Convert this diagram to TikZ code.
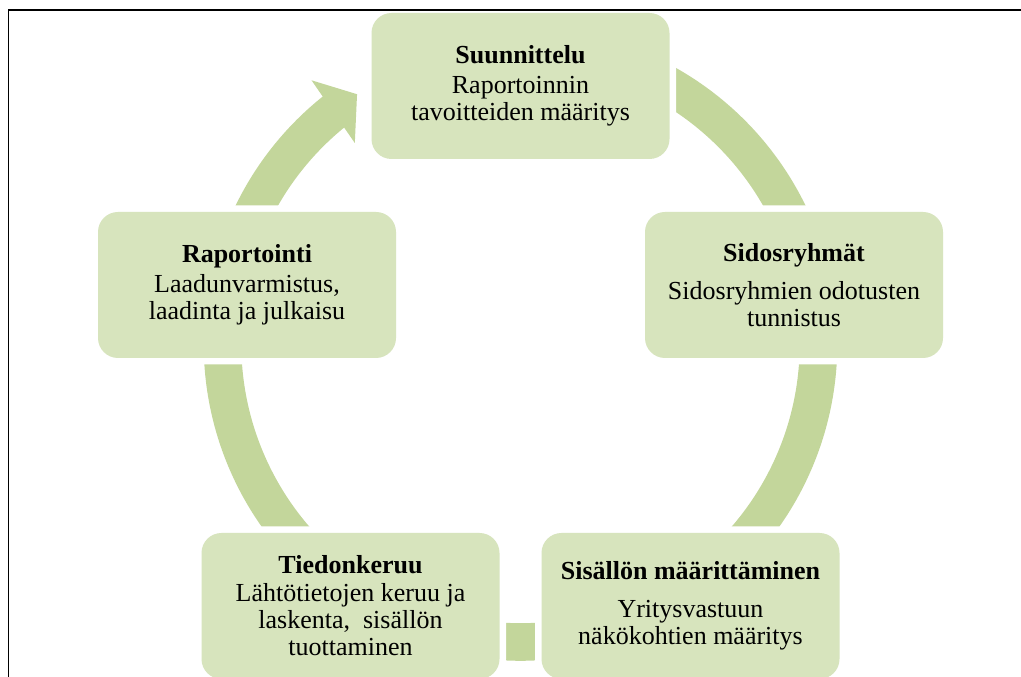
\documentclass[tikz,border=0pt]{standalone}
\usepackage{fontspec}
\setmainfont{Liberation Serif}
\definecolor{boxgreen}{RGB}{215,228,189}
\definecolor{ringgreen}{RGB}{195,214,155}

\begin{document}
\begin{tikzpicture}[x=1pt, y=1pt,
BoxStyle/.style={fill=boxgreen, rounded corners=20pt, minimum width=298pt,
                minimum height=146pt, inner sep=0pt, align=center,
                font=\fontsize{26}{27}\selectfont,
                preaction={draw=white, line width=13pt}},
RingStyle/.style={draw=ringgreen, line width=37.6pt},]
\useasboundingbox (0,0) rectangle (1021,677);
\coordinate (c) at (520.5,333);
% ring pieces between the boxes
\begin{scope}[shift={(c)}]
\draw[RingStyle] (95:298pt) arc[start angle=95, end angle=5, radius=298pt];
\draw[RingStyle] (5:298pt) arc[start angle=5, end angle=-60, radius=298pt];
\draw[RingStyle] (-60:298pt) arc[start angle=-60, end angle=-120, radius=298pt];
\draw[RingStyle] (-120:298pt) arc[start angle=-120, end angle=-180, radius=298pt];
\draw[RingStyle] (180:298pt) arc[start angle=180, end angle=127.5, radius=298pt];
\fill[ringgreen] (128.4:336.5pt) -- (123.2:298.5pt) -- (129.5:260.5pt) -- cycle;
\end{scope}
% boxes
\node[BoxStyle] (plan) at (520.5,591) {\textbf{Suunnittelu}\\[3pt]Raportoinnin\\tavoitteiden määritys};
\node[BoxStyle] (stake) at (794,392) {\textbf{Sidosryhmät}\\[11pt]Sidosryhmien odotusten\\tunnistus};
\node[BoxStyle] (content) at (690.5,71) {\textbf{Sisällön määrittäminen}\\[11pt]Yritysvastuun\\näkökohtien määritys};
\node[BoxStyle] (data) at (350.5,71) {\textbf{Tiedonkeruu}\\[1pt]Lähtötietojen keruu ja\\laskenta,\ \ sisällön\\tuottaminen};
\node[BoxStyle] (report) at (247,392) {\textbf{Raportointi}\\[3pt]Laadunvarmistus,\\laadinta ja julkaisu};
% frame
\draw[line width=1.6pt] (8.5,0) -- (8.5,667) -- (1021,667);
\end{tikzpicture}
\end{document}
